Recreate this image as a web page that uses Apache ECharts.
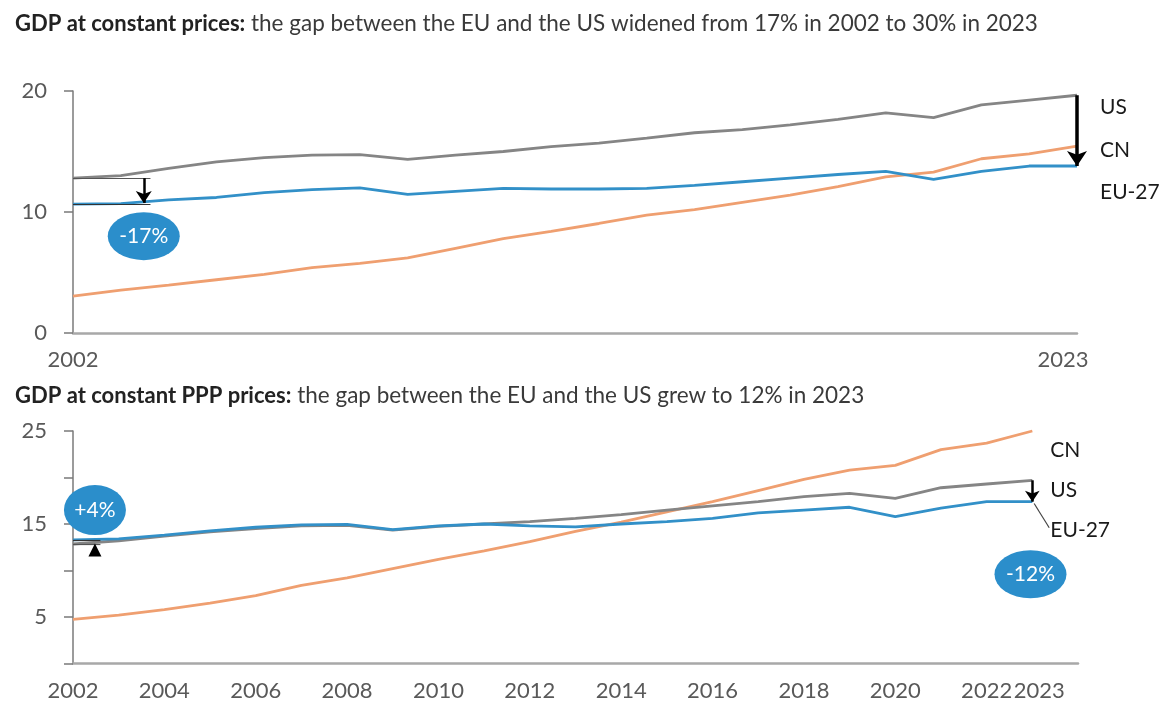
<!DOCTYPE html>
<html>
<head>
<meta charset="utf-8">
<script src="https://cdn.jsdelivr.net/npm/echarts@6/dist/echarts.min.js"></script>
<style>
  html, body { margin: 0; padding: 0; background: #fff; }
  #chart { width: 1165px; height: 704px; }
</style>
</head>
<body>
<div id="chart"></div>
<script>
// years shown on both panels
var years = [2002, 2003, 2004, 2005, 2006, 2007, 2008, 2009, 2010, 2011, 2012,
  2013, 2014, 2015, 2016, 2017, 2018, 2019, 2020, 2021, 2022, 2023];

// GDP at constant prices
var usConst = [12.8, 13.0, 13.6, 14.15, 14.5, 14.7, 14.75, 14.35, 14.7, 15.0, 15.4,
  15.7, 16.1, 16.55, 16.8, 17.2, 17.65, 18.2, 17.8, 18.85, 19.25, 19.65];
var euConst = [10.65, 10.7, 11.0, 11.2, 11.6, 11.85, 12.0, 11.45, 11.7, 11.95, 11.9,
  11.9, 11.95, 12.2, 12.5, 12.8, 13.1, 13.35, 12.7, 13.35, 13.8, 13.8];
var cnConst = [3.05, 3.55, 3.95, 4.4, 4.85, 5.4, 5.75, 6.2, 7.0, 7.8, 8.4,
  9.05, 9.75, 10.2, 10.8, 11.4, 12.1, 12.9, 13.3, 14.4, 14.8, 15.45];

// GDP at constant PPP prices
var usPpp = [12.85, 13.2, 13.7, 14.15, 14.5, 14.8, 14.85, 14.35, 14.75, 15.0, 15.25,
  15.6, 16.0, 16.5, 16.95, 17.4, 17.95, 18.3, 17.75, 18.9, 19.3, 19.7];
var euPpp = [13.3, 13.4, 13.8, 14.25, 14.65, 14.9, 14.95, 14.4, 14.8, 15.0, 14.8,
  14.7, 15.0, 15.25, 15.6, 16.2, 16.5, 16.8, 15.8, 16.7, 17.4, 17.4];
var cnPpp = [4.75, 5.2, 5.8, 6.5, 7.3, 8.4, 9.2, 10.2, 11.2, 12.1, 13.1,
  14.2, 15.2, 16.3, 17.4, 18.6, 19.8, 20.8, 21.3, 23.0, 23.7, 25.0];

var topYearLabels = [2002, 2023];
var bottomYearLabels = [2002, 2004, 2006, 2008, 2010, 2012, 2014, 2016, 2018, 2020, 2022, 2023];
var topYLabels = [0, 10, 20];
var bottomYLabels = [5, 15, 25];

var COL_US = '#858585';
var COL_EU = '#3290c8';
var COL_CN = '#ef9f70';
var COL_BUBBLE = '#2b8ecb';
var FONT = 'Lato';
var ELLIPSE = 'path://M0,50A50,50,0,1,1,100,50A50,50,0,1,1,0,50Z';

function pairs(vals) {
  return years.map(function (y, i) { return [y, vals[i]]; });
}

function bubble(coord, text, size) {
  return {
    coord: coord,
    symbol: ELLIPSE,
    symbolSize: size,
    itemStyle: { color: COL_BUBBLE },
    label: { show: true, position: 'inside', formatter: text, color: '#fff', fontSize: 21, fontFamily: FONT }
  };
}

function arrow(from, to, width, head) {
  return [
    { coord: from, symbol: 'none', lineStyle: { color: '#000', width: width, type: 'solid' } },
    { coord: to, symbol: 'arrow', symbolSize: head }
  ];
}

function thin(from, to, color) {
  return [
    { coord: from, symbol: 'none', lineStyle: { color: color, width: 1.2, type: 'solid' } },
    { coord: to, symbol: 'none' }
  ];
}

function lineSeries(name, vals, color, gridIdx, offset) {
  return {
    name: name,
    type: 'line',
    xAxisIndex: gridIdx,
    yAxisIndex: gridIdx,
    data: pairs(vals),
    showSymbol: false,
    symbol: 'none',
    clip: false,
    silent: true,
    lineStyle: { color: color, width: 2.8 },
    itemStyle: { color: color },
    endLabel: {
      show: true,
      formatter: name,
      color: '#1a1a1a',
      fontSize: 21,
      fontFamily: FONT,
      distance: 0,
      offset: offset
    }
  };
}

var chart = echarts.init(document.getElementById('chart'));

var titleRich = {
  b: { fontWeight: 'bold', color: '#222', fontSize: 22, fontFamily: FONT },
  n: { fontWeight: 'normal', color: '#3a3a3a', fontSize: 22.5, fontFamily: FONT }
};

var yAxisBase = {
  type: 'value',
  splitLine: { show: false },
  axisLine: { show: true, lineStyle: { color: '#7a7a7a', width: 1.5 } },
  axisTick: { show: true, length: 9, lineStyle: { color: '#7a7a7a', width: 1.5 } },
  axisLabel: { color: '#595959', fontSize: 22, fontFamily: FONT, margin: 26 }
};

var xAxisBase = {
  type: 'value',
  min: 2002,
  interval: 1,
  splitLine: { show: false },
  axisTick: { show: false },
  axisLine: { show: true, lineStyle: { color: '#a8a8a8', width: 2.5 } }
};

var labelRich = {
  l: { color: '#595959', fontSize: 22, fontFamily: FONT, padding: [0, 28, 0, 0] },
  r: { color: '#595959', fontSize: 22, fontFamily: FONT, padding: [0, 0, 0, 14] }
};

var topEu = lineSeries('EU-27', euConst, COL_EU, 0, [23, 26]);
topEu.markLine = {
  silent: true,
  animation: false,
  label: { show: false },
  data: [
    thin([2002, usConst[0]], [2003.62, usConst[0]], '#555'),
    thin([2002, euConst[0]], [2003.62, euConst[0]], '#333'),
    arrow([2003.48, usConst[0]], [2003.48, euConst[0] + 0.1], 2.5, 12),
    arrow([2023, usConst[21]], [2023, euConst[21]], 3.5, 15),
    thin([2023.04, 13.6], [2023.33, 12.15], '#444')
  ]
};
topEu.markPoint = {
  silent: true,
  animation: false,
  data: [
    bubble([2003.48, 8.0], '-17%', [72, 48]),
    bubble([2023, 22.0], '-30%', [66, 46])
  ]
};

var botEu = lineSeries('EU-27', euPpp, COL_EU, 1, [18, 29]);
botEu.markLine = {
  silent: true,
  animation: false,
  label: { show: false },
  data: [
    thin([2002, euPpp[0]], [2002.6, euPpp[0]], '#333'),
    thin([2002, usPpp[0]], [2002.6, usPpp[0]], '#555'),
    arrow([2023, usPpp[21]], [2023, euPpp[21]], 2.5, 11),
    thin([2023.04, 17.2], [2023.37, 14.6], '#444')
  ]
};
botEu.markPoint = {
  silent: true,
  animation: false,
  data: [
    bubble([2002.48, 16.5], '+4%', [62, 50]),
    bubble([2022.96, 9.6], '-12%', [72, 48]),
    {
      coord: [2002.48, 12.2],
      symbol: 'triangle',
      symbolSize: [13, 13],
      itemStyle: { color: '#000' },
      label: { show: false }
    }
  ]
};

chart.setOption({
  animation: false,
  backgroundColor: '#fff',
  title: [
    {
      left: 10, top: 7,
      text: '{b|GDP at constant prices:}{n| the gap between the EU and the US widened from 17% in 2002 to 30% in 2023}',
      textStyle: { rich: titleRich }
    },
    {
      left: 10, top: 379,
      text: '{b|GDP at constant PPP prices:}{n| the gap between the EU and the US grew to 12% in 2023}',
      textStyle: { rich: titleRich }
    }
  ],
  grid: [
    { left: 73, right: 88, top: 91, height: 242 },
    { left: 73, right: 87, top: 431, height: 232.5 }
  ],
  xAxis: [
    Object.assign({}, xAxisBase, {
      gridIndex: 0,
      max: 2023,
      axisLabel: {
        color: '#595959', fontSize: 22, fontFamily: FONT, margin: 16,
        showMinLabel: true, showMaxLabel: true, rich: labelRich,
        formatter: function (v) {
          if (v === 2023) return '{l|2023}';
          return topYearLabels.indexOf(v) >= 0 ? String(v) : '';
        }
      }
    }),
    Object.assign({}, xAxisBase, {
      gridIndex: 1,
      max: 2024,
      axisLabel: {
        color: '#595959', fontSize: 22, fontFamily: FONT, margin: 16, rich: labelRich,
        formatter: function (v) {
          if (v === 2023) return '{r|2023}';
          return bottomYearLabels.indexOf(v) >= 0 ? String(v) : '';
        }
      }
    })
  ],
  yAxis: [
    Object.assign({}, yAxisBase, {
      gridIndex: 0, min: 0, max: 20, interval: 10,
      axisLabel: Object.assign({}, yAxisBase.axisLabel, {
        formatter: function (v) { return topYLabels.indexOf(v) >= 0 ? String(v) : ''; }
      })
    }),
    Object.assign({}, yAxisBase, {
      gridIndex: 1, min: 0, max: 25, interval: 5,
      axisLabel: Object.assign({}, yAxisBase.axisLabel, {
        formatter: function (v) { return bottomYLabels.indexOf(v) >= 0 ? String(v) : ''; }
      })
    })
  ],
  series: [
    lineSeries('CN', cnConst, COL_CN, 0, [23, 4]),
    lineSeries('US', usConst, COL_US, 0, [23, 12]),
    topEu,
    lineSeries('CN', cnPpp, COL_CN, 1, [18, 19]),
    lineSeries('US', usPpp, COL_US, 1, [18, 10]),
    botEu
  ]
});
</script>
</body>
</html>
